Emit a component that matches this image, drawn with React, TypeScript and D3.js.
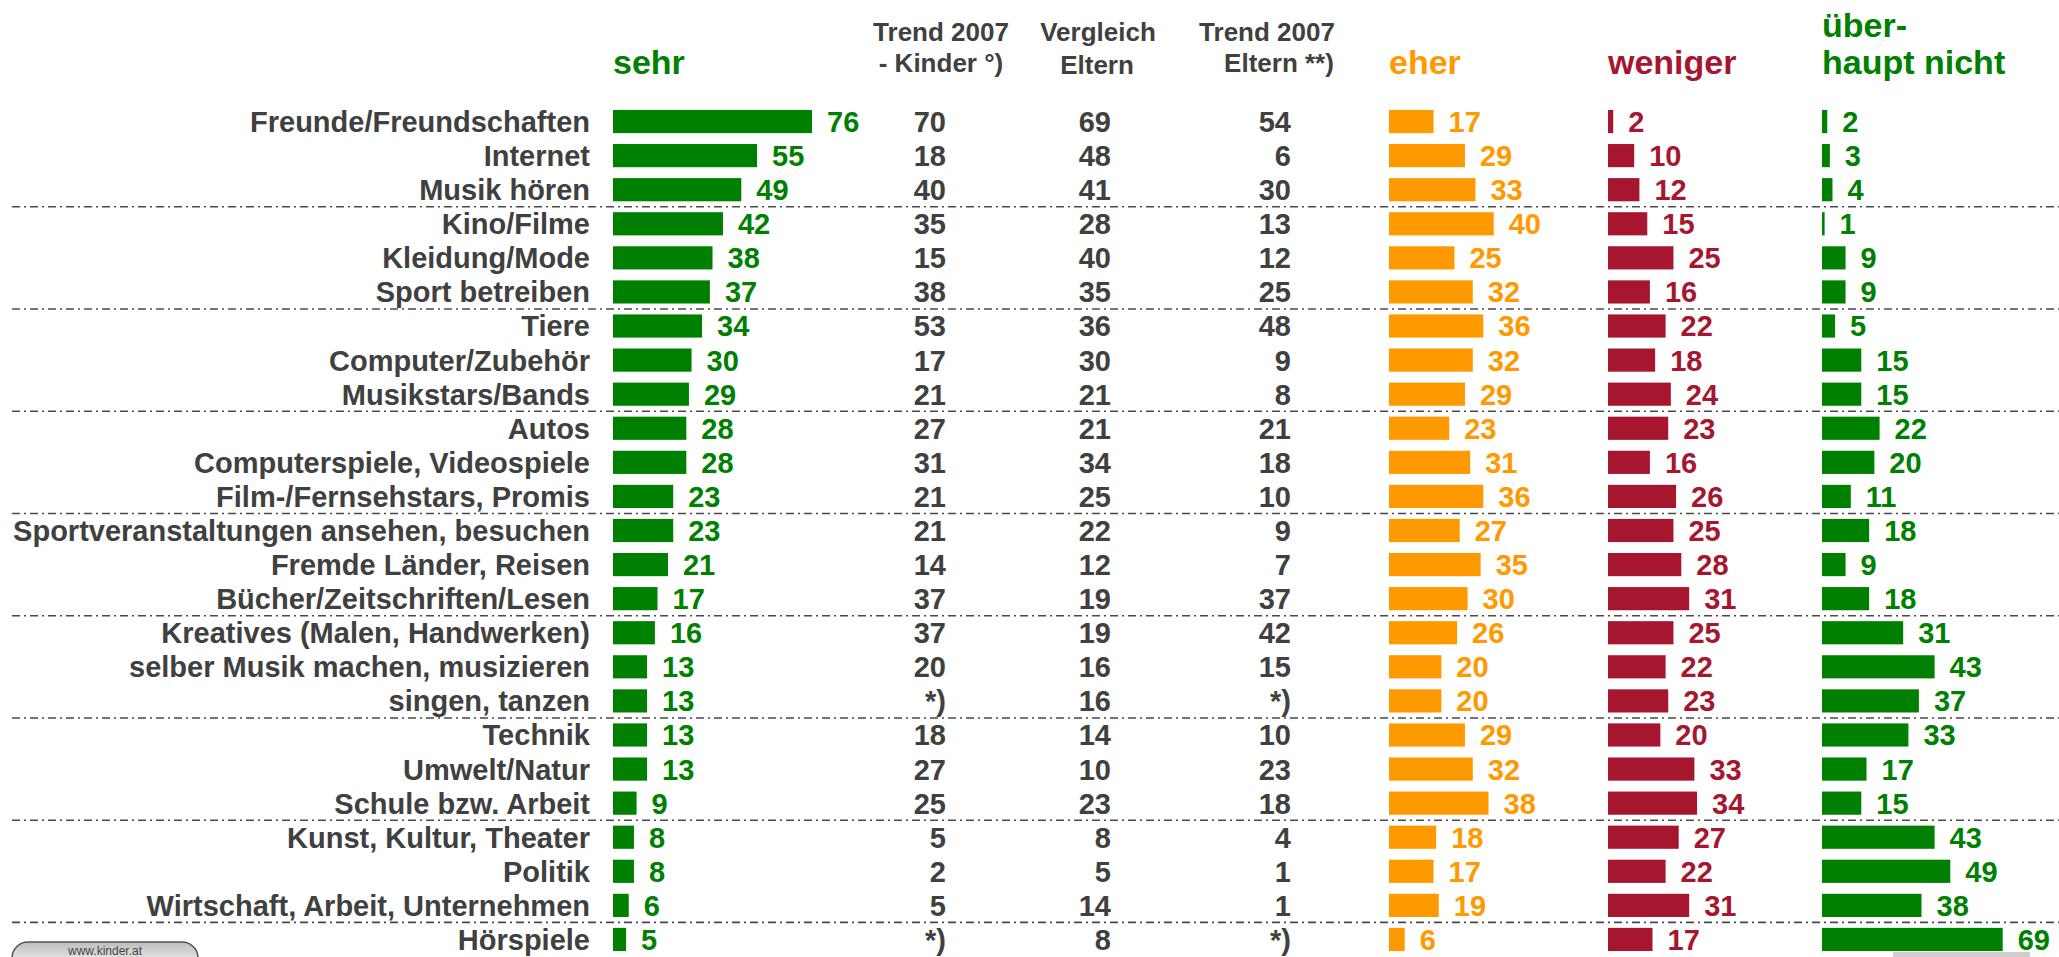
import React, { useEffect, useRef } from 'react';
import * as d3 from 'd3';

const categories = [
  'Freunde/Freundschaften', 'Internet', 'Musik hören', 'Kino/Filme', 'Kleidung/Mode',
  'Sport betreiben', 'Tiere', 'Computer/Zubehör', 'Musikstars/Bands', 'Autos',
  'Computerspiele, Videospiele', 'Film-/Fernsehstars, Promis', 'Sportveranstaltungen ansehen, besuchen',
  'Fremde Länder, Reisen', 'Bücher/Zeitschriften/Lesen', 'Kreatives (Malen, Handwerken)',
  'selber Musik machen, musizieren', 'singen, tanzen', 'Technik', 'Umwelt/Natur',
  'Schule bzw. Arbeit', 'Kunst, Kultur, Theater', 'Politik', 'Wirtschaft, Arbeit, Unternehmen', 'Hörspiele',
];

const sehr = [76, 55, 49, 42, 38, 37, 34, 30, 29, 28, 28, 23, 23, 21, 17, 16, 13, 13, 13, 13, 9, 8, 8, 6, 5];
const eher = [17, 29, 33, 40, 25, 32, 36, 32, 29, 23, 31, 36, 27, 35, 30, 26, 20, 20, 29, 32, 38, 18, 17, 19, 6];
const weniger = [2, 10, 12, 15, 25, 16, 22, 18, 24, 23, 16, 26, 25, 28, 31, 25, 22, 23, 20, 33, 34, 27, 22, 31, 17];
const ueberhaupt = [2, 3, 4, 1, 9, 9, 5, 15, 15, 22, 20, 11, 18, 9, 18, 31, 43, 37, 33, 17, 15, 43, 49, 38, 69];

const trendKinder = ['70', '18', '40', '35', '15', '38', '53', '17', '21', '27', '31', '21', '21', '14', '37', '37', '20', '*)', '18', '27', '25', '5', '2', '5', '*)'];
const vergleichEltern = ['69', '48', '41', '28', '40', '35', '36', '30', '21', '21', '34', '25', '22', '12', '19', '19', '16', '16', '14', '10', '23', '8', '5', '14', '8'];
const trendEltern = ['54', '6', '30', '13', '12', '25', '48', '9', '8', '21', '18', '10', '9', '7', '37', '42', '15', '*)', '10', '23', '18', '4', '1', '1', '*)'];

const GREEN = '#008000';
const ORANGE = '#FF9900';
const RED = '#A6172F';
const GRAY = '#404040';
const FONT = '"Liberation Sans", Arial, sans-serif';

export default function App() {
  const ref = useRef<SVGSVGElement>(null);

  useEffect(() => {
    const width = 2059, height = 957;
    const svg = d3.select(ref.current).attr('width', width).attr('height', height);
    svg.selectAll('*').remove();

    const y = d3.scaleBand<number>()
      .domain(d3.range(categories.length))
      .range([104.5, 956.5])
      .paddingInner(0.32)
      .paddingOuter(0.16);
    const x = d3.scaleLinear().domain([0, 76]).range([0, 199]);

    // group separators
    const seps = d3.range(3, categories.length, 3);
    svg.append('g').selectAll('line').data(seps).join('line')
      .attr('x1', 12).attr('x2', width)
      .attr('y1', d => y(d)! - y.step() * y.paddingInner() / 2)
      .attr('y2', d => y(d)! - y.step() * y.paddingInner() / 2)
      .attr('stroke', '#4a4a4a').attr('stroke-width', 1.6)
      .attr('stroke-dasharray', '8,4,2,4');

    // row labels
    svg.append('g').selectAll('text').data(categories).join('text')
      .attr('x', 590).attr('y', (d, i) => y(i)! + y.bandwidth() / 2)
      .attr('dy', '0.36em').attr('text-anchor', 'end')
      .attr('font-family', FONT).attr('font-weight', 'bold').attr('font-size', 29)
      .attr('fill', GRAY).text(d => d);

    const barCol = (vals: number[], x0: number, color: string) => {
      const g = svg.append('g');
      g.selectAll('rect').data(vals).join('rect')
        .attr('x', x0).attr('y', (d, i) => y(i)!)
        .attr('width', d => x(d)).attr('height', y.bandwidth())
        .attr('fill', color);
      g.selectAll('text').data(vals).join('text')
        .attr('x', d => x0 + x(d) + 15).attr('y', (d, i) => y(i)! + y.bandwidth() / 2)
        .attr('dy', '0.36em')
        .attr('font-family', FONT).attr('font-weight', 'bold').attr('font-size', 29)
        .attr('fill', color).text(d => d);
    };
    barCol(sehr, 613, GREEN);
    barCol(eher, 1389, ORANGE);
    barCol(weniger, 1608, RED);
    barCol(ueberhaupt, 1822, GREEN);

    const numCol = (vals: string[], xr: number) => {
      svg.append('g').selectAll('text').data(vals).join('text')
        .attr('x', xr).attr('y', (d, i) => y(i)! + y.bandwidth() / 2)
        .attr('dy', '0.36em').attr('text-anchor', 'end')
        .attr('font-family', FONT).attr('font-weight', 'bold').attr('font-size', 29)
        .attr('fill', GRAY).text(d => d);
    };
    numCol(trendKinder, 946);
    numCol(vergleichEltern, 1111);
    numCol(trendEltern, 1291);

    // headers
    const head = (t: string, hx: number, hy: number, color: string, size: number, anchor = 'start') =>
      svg.append('text').attr('x', hx).attr('y', hy).attr('text-anchor', anchor)
        .attr('font-family', FONT).attr('font-weight', 'bold').attr('font-size', size)
        .attr('fill', color).text(t);
    head('sehr', 613, 74, GREEN, 34);
    head('eher', 1389, 74, ORANGE, 34);
    head('weniger', 1608, 74, RED, 34);
    head('über-', 1822, 37, GREEN, 34);
    head('haupt nicht', 1822, 74, GREEN, 34);
    head('Trend 2007', 941, 41, GRAY, 26, 'middle');
    head('- Kinder °)', 941, 72, GRAY, 26, 'middle');
    head('Vergleich', 1098, 41, GRAY, 26, 'middle');
    head('Eltern', 1097, 74, GRAY, 26, 'middle');
    head('Trend 2007', 1267, 41, GRAY, 26, 'middle');
    head('Eltern **)', 1279, 72, GRAY, 26, 'middle');

    // web button at bottom left (clipped by page edge)
    const defs = svg.append('defs');
    const grad = defs.append('linearGradient').attr('id', 'btn').attr('x1', 0).attr('x2', 0).attr('y1', 0).attr('y2', 1);
    grad.append('stop').attr('offset', '0%').attr('stop-color', '#bdbdbd');
    grad.append('stop').attr('offset', '60%').attr('stop-color', '#f4f4f4');
    svg.append('rect').attr('x', 12).attr('y', 942).attr('width', 186).attr('height', 40).attr('rx', 16)
      .attr('fill', 'url(#btn)').attr('stroke', '#555').attr('stroke-width', 1.5);
    svg.append('text').attr('x', 105).attr('y', 955).attr('text-anchor', 'middle')
      .attr('font-family', FONT).attr('font-size', 12).attr('fill', '#444').text('www.kinder.at');
    svg.append('rect').attr('x', 1893).attr('y', 952).attr('width', 137).attr('height', 6).attr('fill', '#cfcfcf');
  }, []);

  return (
    <svg ref={ref} style={{ position: 'absolute', left: 0, top: 0, display: 'block', background: '#fff' }} />
  );
}
